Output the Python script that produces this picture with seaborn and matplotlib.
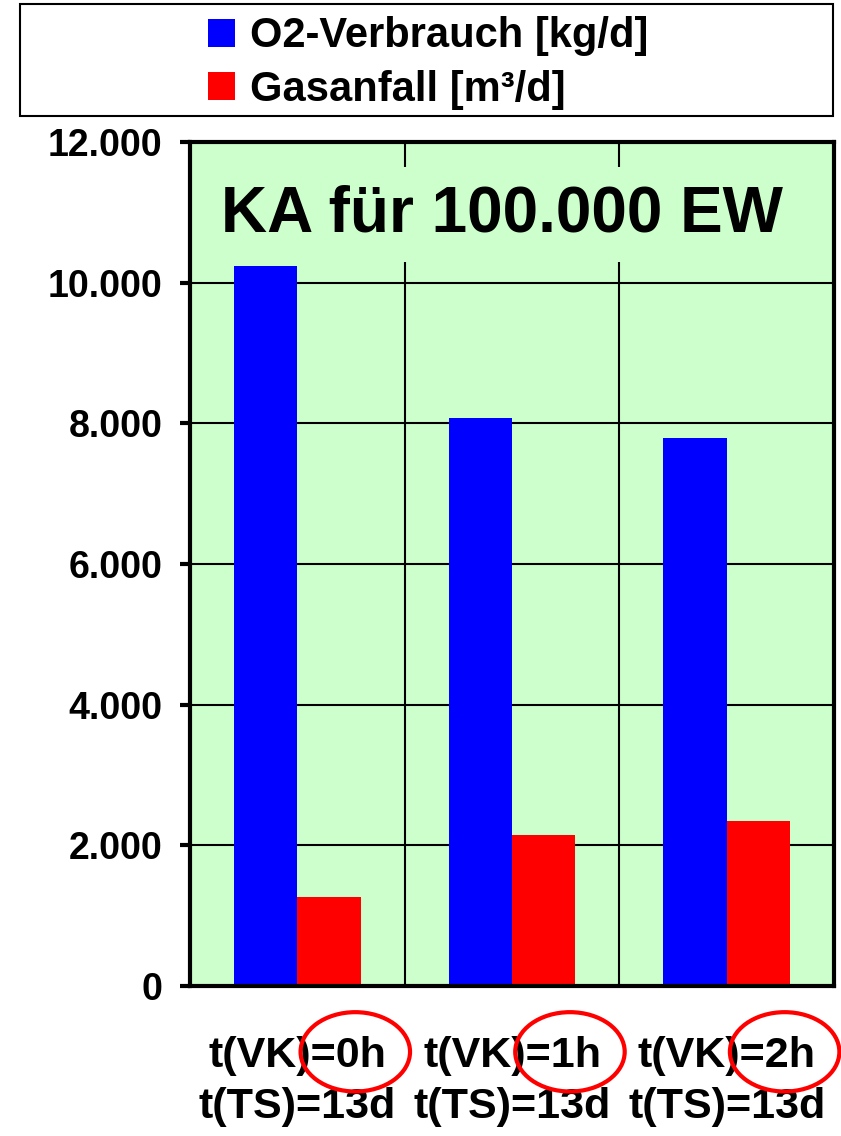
import matplotlib
matplotlib.use("Agg")
import matplotlib.pyplot as plt
import matplotlib.ticker as mticker
from matplotlib.patches import Patch, Ellipse, Rectangle
import seaborn as sns
import pandas as pd

# ---- data ----
categories = ["t(VK)=0h\nt(TS)=13d", "t(VK)=1h\nt(TS)=13d", "t(VK)=2h\nt(TS)=13d"]
series = ["O2-Verbrauch [kg/d]", "Gasanfall [m³/d]"]
o2_verbrauch = [10230, 8080, 7790]
gasanfall = [1270, 2150, 2350]
colors = ["#0000FF", "#FF0000"]
y_ticks = [0, 2000, 4000, 6000, 8000, 10000, 12000]
title_text = "KA für 100.000 EW"

df = pd.DataFrame({
    "cat": categories * 2,
    "series": [series[0]] * 3 + [series[1]] * 3,
    "value": o2_verbrauch + gasanfall,
})

sns.set_theme(style="white")
plt.rcParams["font.family"] = ["Liberation Sans", "DejaVu Sans"]
plt.rcParams["font.weight"] = "bold"
for k in ["text.color", "xtick.color", "ytick.color", "axes.labelcolor", "axes.edgecolor"]:
    plt.rcParams[k] = "black"

fig = plt.figure(figsize=(8.41, 11.36), dpi=100)
ax = fig.add_axes([190 / 841, 1 - 986 / 1136, (834 - 190) / 841, (986 - 142) / 1136])
ax.set_facecolor("#CCFFCC")

sns.barplot(data=df, x="cat", y="value", hue="series", order=categories,
            hue_order=series, palette=colors, saturation=1, width=0.59,
            ax=ax, legend=False, linewidth=0)

ax.set_xlim(-0.5, 2.5)
ax.set_ylim(0, 12000)
ax.set_yticks(y_ticks)
ax.yaxis.set_major_formatter(mticker.FuncFormatter(lambda v, p: f"{int(v):,}".replace(",", ".")))
ax.set_xlabel("")
ax.set_ylabel("")

# x ticks: labels at centers, tick marks at category boundaries
ax.set_xticks(range(len(categories)))
ax.set_xticklabels(categories, linespacing=1.35)
ax.set_xticks([-0.5, 0.5, 1.5, 2.5], minor=True)
ax.tick_params(axis="x", which="major", length=0, pad=36, labelsize=31, labelcolor="black")
ax.tick_params(axis="x", which="minor", length=10, width=3, color="black", direction="out")
ax.tick_params(axis="y", which="major", length=7, width=3, color="black", pad=13,
               labelsize=27, left=True, direction="out", labelcolor="black")

ax.set_axisbelow(True)
ax.yaxis.grid(True, color="black", linewidth=1.5)
ax.xaxis.grid(True, which="minor", color="black", linewidth=1.5)
ax.xaxis.grid(False, which="major")

for s in ax.spines.values():
    s.set_visible(True)
    s.set_color("black")
    s.set_linewidth(3)

# title inside the plot
ax.text(0.485, 0.914, title_text, transform=ax.transAxes, ha="center", va="center",
        fontsize=46, fontweight="bold", color="black",
        bbox=dict(facecolor="#CCFFCC", edgecolor="none", pad=13))

# red ellipses highlighting the VK part of each label
for i in range(len(categories)):
    e = Ellipse((i + 0.27, -0.078), width=0.51, height=0.094,
                transform=ax.get_xaxis_transform(), fill=False,
                edgecolor="#FF0000", linewidth=3, clip_on=False)
    ax.add_patch(e)

# legend box at top
fig.patches.append(Rectangle((20 / 841, 1 - 116 / 1136), (833 - 20) / 841, (116 - 4) / 1136,
                             transform=fig.transFigure, fill=False, edgecolor="black",
                             linewidth=1.5))
handles = [Patch(facecolor=c, edgecolor="none") for c in colors]
leg = fig.legend(handles, series, loc="center", bbox_to_anchor=(428 / 841, 1 - 63 / 1136),
                 frameon=False, handlelength=0.65, handleheight=0.65,
                 handletextpad=0.35, labelspacing=0.32, borderpad=0,
                 prop={"weight": "bold", "size": 30})
for t in leg.get_texts():
    t.set_color("black")

fig.savefig("out.png", dpi=100)
